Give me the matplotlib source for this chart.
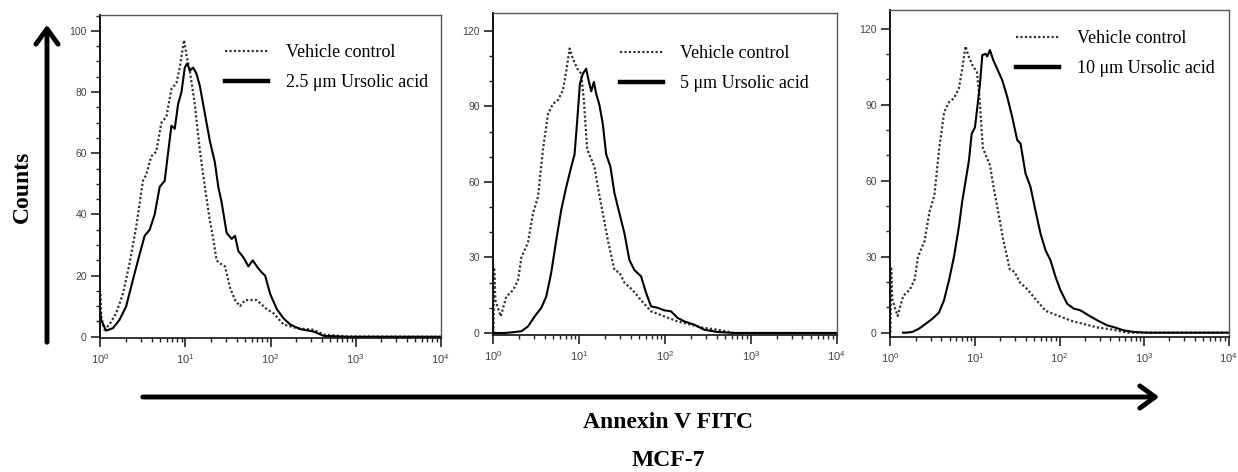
import numpy as np
import matplotlib
matplotlib.use("Agg")
import matplotlib.pyplot as plt
from matplotlib.lines import Line2D
from matplotlib.patches import FancyArrowPatch
from matplotlib.ticker import LogLocator, MultipleLocator, NullFormatter

plt.rcParams['font.family'] = ['Liberation Sans', 'DejaVu Sans']
plt.rcParams['mathtext.fontset'] = 'custom'
plt.rcParams['mathtext.rm'] = 'Liberation Sans'
plt.rcParams['mathtext.it'] = 'Liberation Sans:italic'

# ---------------- data (log10 of Annexin V FITC intensity, counts) ----------------
# Panel 1: vehicle control
p1_veh_log = [0.0, 0.01, 0.047, 0.106, 0.185, 0.264, 0.343, 0.421, 0.5, 0.539, 0.598, 0.657,
              0.717, 0.776, 0.835, 0.894, 0.933, 0.961, 0.984, 1.012, 1.051, 1.110, 1.169,
              1.228, 1.287, 1.327, 1.366, 1.406, 1.465, 1.524, 1.583, 1.642, 1.701, 1.839,
              1.957, 2.035, 2.154, 2.311, 2.508, 2.626, 2.902, 4.0]
p1_veh_cnt = [14, 6.6, 2.3, 4, 7.7, 14, 24, 36, 51, 53, 59, 60.5,
              70, 72, 81, 83, 88, 93, 97, 92, 87, 76, 61,
              49, 38, 32, 25, 24, 23, 16, 12, 10, 12, 12,
              9, 7.7, 4, 2.8, 2.3, 0.7, 0.1, 0]
# Panel 1: 2.5 um ursolic acid
p1_ua_log = [0.0, 0.008, 0.067, 0.146, 0.224, 0.303, 0.382, 0.461, 0.520, 0.579, 0.638, 0.697,
             0.756, 0.795, 0.835, 0.874, 0.913, 0.953, 0.992, 1.020, 1.051, 1.091, 1.130,
             1.169, 1.228, 1.287, 1.346, 1.386, 1.425, 1.484, 1.543, 1.583, 1.622, 1.681,
             1.740, 1.791, 1.839, 1.898, 1.937, 1.996, 2.075, 2.154, 2.232, 2.350, 2.508,
             2.626, 2.902, 4.0]
p1_ua_cnt = [7.7, 5.5, 2, 2.8, 5.5, 10, 18.6, 27, 33, 35, 40, 49,
             51, 60, 69, 68, 76, 80, 88, 89.4, 87, 88, 86,
             82, 73, 64, 57, 49, 44, 34, 32, 33, 28, 26,
             23, 25, 23, 21, 20, 14, 9, 6, 4, 2.5, 1.7,
             0.3, 0, 0]

# Panels 2 and 3: vehicle control (same control sample)
p23_veh_log = [0.0, 0.008, 0.023, 0.085, 0.151, 0.229, 0.287, 0.326, 0.403, 0.461, 0.519, 0.578,
               0.636, 0.694, 0.752, 0.810, 0.849, 0.888, 0.926, 0.977, 1.023, 1.054, 1.093,
               1.140, 1.178, 1.217, 1.275, 1.333, 1.411, 1.469, 1.527, 1.624, 1.721, 1.837,
               1.992, 2.147, 2.302, 2.457, 2.612, 2.806, 4.0]
p23_veh_cnt = [0, 26, 13, 6.6, 14.5, 17, 21, 30, 36, 47.5, 54, 73,
               87, 91, 92.5, 96.4, 104, 113, 109, 105, 103, 92.5, 73,
               69, 66, 58, 47.5, 37, 25, 24, 20, 17, 13, 8.6,
               6.6, 4.6, 3.3, 2, 1.3, 0, 0]
# Panel 2: 5 um ursolic acid
p2_ua_log = [0.016, 0.132, 0.229, 0.326, 0.403, 0.481, 0.558, 0.616, 0.674, 0.733, 0.791, 0.849,
             0.907, 0.946, 0.977, 1.008, 1.043, 1.081, 1.112, 1.140, 1.171, 1.198, 1.236,
             1.275, 1.314, 1.364, 1.411, 1.469, 1.527, 1.585, 1.643, 1.721, 1.779, 1.837,
             1.915, 1.992, 2.070, 2.147, 2.225, 2.341, 2.457, 2.612, 2.806, 4.0]
p2_ua_cnt = [0, 0, 0.3, 0.7, 2.6, 6.6, 10, 14.5, 24, 37, 49, 58,
             66, 71, 84.5, 99, 103, 105, 100, 96, 99.7, 95, 90.5,
             83, 71, 66, 55.5, 47.5, 39.6, 29, 25, 22.5, 16, 10.6,
             10, 9, 8.6, 6, 4.6, 3.3, 1.3, 0.4, 0, 0]
# Panel 3: 10 um ursolic acid
p3_ua_log = [0.15, 0.181, 0.260, 0.339, 0.417, 0.496, 0.575, 0.634, 0.693, 0.752, 0.811, 0.850,
             0.890, 0.929, 0.961, 1.0, 1.028, 1.059, 1.087, 1.126, 1.146, 1.177, 1.217,
             1.264, 1.323, 1.382, 1.441, 1.5, 1.539, 1.598, 1.657, 1.717, 1.776, 1.835,
             1.894, 1.953, 2.012, 2.091, 2.169, 2.248, 2.346, 2.445, 2.563, 2.642, 2.760,
             2.878, 3.035, 4.0]
p3_ua_cnt = [0, 0, 0.3, 1.6, 3.5, 5.5, 8, 12.8, 20.7, 30, 42, 52,
             60, 68, 78.5, 81, 89, 98, 109.5, 110, 109, 111.5, 107.5,
             104, 99.6, 93, 85, 76, 74.6, 62.8, 57.5, 48, 39, 32.5,
             28.5, 22, 16.7, 11.4, 9.5, 8.8, 6.8, 4.9, 2.9, 2.2, 0.9,
             0.3, 0, 0]

legend_labels = ["Vehicle control", "2.5 \u03bcm Ursolic acid",
                 "5 \u03bcm Ursolic acid", "10 \u03bcm Ursolic acid"]
ytick_steps = [20, 30, 30]
yminor_steps = [5, 10, 10]
ylims = [(-0.4, 105.2), (-0.8, 127.1), (-1.7, 127.3)]

panels = [
    (p1_veh_log, p1_veh_cnt, p1_ua_log, p1_ua_cnt, legend_labels[1]),
    (p23_veh_log, p23_veh_cnt, p2_ua_log, p2_ua_cnt, legend_labels[2]),
    (p23_veh_log, p23_veh_cnt, p3_ua_log, p3_ua_cnt, legend_labels[3]),
]

# ---------------- layout ----------------
W, H = 1238, 472
fig = plt.figure(figsize=(W / 100, H / 100), dpi=100)

boxes = [(100, 15, 441, 338), (493, 13, 837, 335), (890, 10, 1229, 337)]
leg_anchor = [(0.367, 0.909), (0.369, 0.900), (0.372, 0.938)]

dot_color = '#333333'
spine_color = '#555555'

for i, ((vx, vy, ux, uy, ua_label), (l, t, r, b)) in enumerate(zip(panels, boxes)):
    ax = fig.add_axes([l / W, 1 - b / H, (r - l) / W, (b - t) / H])
    ax.plot(10 ** np.asarray(vx), vy, linestyle=(0, (1, 1)), color=dot_color, lw=1.6)
    ax.plot(10 ** np.asarray(ux), uy, linestyle='-', color='black', lw=1.5)
    ax.set_xscale('log')
    ax.set_xlim(10 ** -0.005, 10 ** 4.005)
    ax.set_ylim(*ylims[i])
    ax.xaxis.set_major_locator(LogLocator(base=10, numticks=10))
    ax.xaxis.set_minor_locator(LogLocator(base=10, subs=np.arange(2, 10), numticks=20))
    ax.xaxis.set_minor_formatter(NullFormatter())
    ax.yaxis.set_major_locator(MultipleLocator(ytick_steps[i]))
    ax.yaxis.set_minor_locator(MultipleLocator(yminor_steps[i]))
    ax.tick_params(axis='both', which='major', direction='out', length=6.5, width=1.2,
                   color='#222222', labelsize=7.5, labelcolor='#444444', pad=3)
    ax.tick_params(axis='both', which='minor', direction='out', length=3.2, width=1.0,
                   color='#222222')
    ax.tick_params(axis='x', which='major', pad=4, labelsize=8)
    for s in ax.spines.values():
        s.set_color(spine_color)
        s.set_linewidth(1.0)
    ax.spines['left'].set_color('#111111')
    ax.spines['left'].set_linewidth(1.4)
    ax.spines['bottom'].set_color('#111111')
    ax.spines['bottom'].set_linewidth(1.2)

    handles = [Line2D([], [], linestyle=(0, (1, 1)), color=dot_color, lw=1.6),
               Line2D([], [], linestyle='-', color='black', lw=3.2)]
    ax.legend(handles, [legend_labels[0], ua_label], loc='upper left',
              bbox_to_anchor=leg_anchor[i], frameon=False, borderpad=0, borderaxespad=0,
              handlelength=2.4, handletextpad=0.95, labelspacing=0.72,
              prop={'family': 'Liberation Serif', 'size': 13})

# ---------------- figure-level annotations ----------------
fig.text(22 / W, 1 - 187 / H, "Counts", rotation=90, ha='center', va='center',
         family='Liberation Serif', fontweight='bold', fontsize=17)
fig.text(668 / W, 1 - 422 / H, "Annexin V FITC", ha='center', va='center',
         family='Liberation Serif', fontweight='bold', fontsize=17)
fig.text(668 / W, 1 - 461 / H, "MCF-7", ha='center', va='center',
         family='Liberation Serif', fontweight='bold', fontsize=17)

fig.add_artist(FancyArrowPatch((47 / W, 1 - 345 / H), (47 / W, 1 - 22 / H),
                               transform=fig.transFigure,
                               arrowstyle='->,head_length=0.55,head_width=0.4',
                               mutation_scale=20, lw=3.5, color='black'))
fig.add_artist(FancyArrowPatch((140 / W, 1 - 397 / H), (1162 / W, 1 - 397 / H),
                               transform=fig.transFigure,
                               arrowstyle='->,head_length=0.55,head_width=0.4',
                               mutation_scale=20, lw=3.5, color='black'))

fig.savefig("out.png", dpi=100)
